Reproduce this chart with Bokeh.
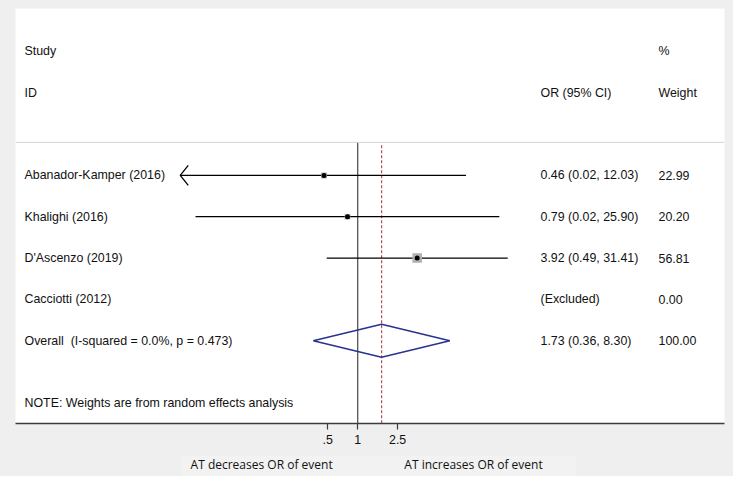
import math
from bokeh.plotting import figure
from bokeh.layouts import column
from bokeh.models import Range1d, LinearScale, FixedTicker, Span
from bokeh.embed import file_html
from bokeh.resources import INLINE
from bokeh.core.properties import value

# ---------------- data ----------------
studies = ["Abanador-Kamper (2016)", "Khalighi (2016)", "D'Ascenzo (2019)", "Cacciotti (2012)"]
or_est = [0.46, 0.79, 3.92, None]
ci_low = [0.016, 0.024, 0.49, None]
ci_high = [12.03, 25.90, 31.41, None]
weights = [22.99, 20.20, 56.81, 0.00]
or_labels = ["0.46 (0.02, 12.03)", "0.79 (0.02, 25.90)", "3.92 (0.49, 31.41)", "(Excluded)"]
weight_labels = ["22.99", "20.20", "56.81", "0.00"]

overall_text = "Overall\u00a0\u00a0(I-squared = 0.0%, p = 0.473)"
overall_or = 1.73
overall_low = 0.36
overall_high = 8.30
overall_or_label = "1.73 (0.36, 8.30)"
overall_weight_label = "100.00"

null_value = 1
tick_values = [0.5, 1, 2.5]
tick_labels = [".5", "1", "2.5"]
note_text = "NOTE: Weights are from random effects analysis"
left_label = "AT decreases OR of event"
right_label = "AT increases OR of event"

# ---------------- layout ----------------
FONT = "Liberation Sans"
FS = "12.4px"
BG = "#efefef"
x_clip_lo = 0.0169          # left limit of the forest area (arrow drawn beyond it)
px_per_ln = 43.5
px_per_row = 41.31

rows = [5, 4, 3, 2]
overall_row = 1

p = figure(width=733, height=455, x_axis_type="log",
           x_range=Range1d(3.83e-4, 4582), y_range=Range1d(-1.005, 9.04),
           output_backend="svg", toolbar_location=None,
           min_border_left=15, min_border_right=9, min_border_top=8, min_border_bottom=32,
           background_fill_color="white", border_fill_color=BG,
           outline_line_color=None, y_axis_location=None)
p.extra_x_ranges = {"px": Range1d(23, 732)}
p.extra_x_scales = {"px": LinearScale()}
p.xgrid.visible = False
p.ygrid.visible = False

ax = p.xaxis[0]
ax.ticker = FixedTicker(ticks=tick_values)
ax.major_label_overrides = {v: l for v, l in zip(tick_values, tick_labels)}
ax.minor_tick_line_color = None
ax.major_tick_in = 0
ax.major_tick_out = 6
ax.axis_line_width = 1.6
ax.axis_line_color = "#3c3c3c"
ax.major_tick_line_color = "#3c3c3c"
ax.major_tick_line_width = 1.2
ax.major_label_text_font = FONT
ax.major_label_text_font_size = "12.4px"
ax.major_label_text_color = "#111111"
ax.major_label_standoff = 5

# header separator
p.add_layout(Span(location=5.8, dimension="width", line_color="#d4d4d4", line_width=1))

# null line and overall dashed line
p.segment(x0=[null_value], y0=[5.8], x1=[null_value], y1=[-1.005],
          line_color="#222222", line_width=1)
p.segment(x0=[overall_or], y0=[5.73], x1=[overall_or], y1=[-1.005],
          line_color="#b4505a", line_width=1.2, line_dash="3 2")

# CI lines and arrows
x0s, x1s, ys = [], [], []
arrow_xs, arrow_ys = [], []
for r, lo, hi in zip(rows, ci_low, ci_high):
    if lo is None:
        continue
    start = max(lo, x_clip_lo)
    x0s.append(start); x1s.append(hi); ys.append(r)
    if lo < x_clip_lo:
        dx = x_clip_lo * math.exp(8 / px_per_ln)
        dy = 10 / px_per_row
        arrow_xs.append([dx, x_clip_lo, dx])
        arrow_ys.append([r + dy, r, r - dy])
p.segment(x0=x0s, y0=ys, x1=x1s, y1=ys, line_color="black", line_width=1.3)
p.multi_line(xs=arrow_xs, ys=arrow_ys, line_color="black", line_width=1.3)

# weight boxes and point estimates
wmax = max(weights)
bx, by, bs = [], [], []
for r, e, w in zip(rows, or_est, weights):
    if e is None:
        continue
    bx.append(e); by.append(r); bs.append(9.5 * math.sqrt(w / wmax))
p.scatter(x=bx, y=by, size=bs, marker="square", fill_color="#b0b0b0", line_color=None)
p.scatter(x=bx, y=by, size=5, marker="circle", fill_color="black", line_color=None)

# overall diamond
hh = 16.5 / px_per_row
p.patch(x=[overall_low, overall_or, overall_high, overall_or],
        y=[overall_row, overall_row + hh, overall_row, overall_row - hh],
        fill_color=None, line_color="#27338c", line_width=1.5)

# text columns
txt = dict(x_range_name="px", text_font=value(FONT), text_font_size=value(FS),
           text_baseline="middle", text_color="#111111")
p.text(x=[32, 32], y=[8, 7], text=["Study", "ID"], **txt)
p.text(x=[548], y=[7], text=["OR (95% CI)"], **txt)
p.text(x=[666, 666], y=[8, 7], text=["%", "Weight"], **txt)
p.text(x=[32] * len(studies), y=rows, text=studies, **txt)
p.text(x=[548] * len(or_labels), y=rows, text=or_labels, **txt)
p.text(x=[666] * len(weight_labels), y=rows, text=weight_labels, **txt)
p.text(x=[32], y=[overall_row], text=[overall_text], **txt)
p.text(x=[548], y=[overall_row], text=[overall_or_label], **txt)
p.text(x=[666], y=[overall_row], text=[overall_weight_label], **txt)
p.text(x=[32], y=[-0.52], text=[note_text], **txt)

# strip below the axis with the direction labels (coordinates in page pixels)
q = figure(width=733, height=21, x_range=Range1d(8, 741), y_range=Range1d(484, 463),
           output_backend="svg", toolbar_location=None,
           min_border_left=0, min_border_right=0, min_border_top=0, min_border_bottom=0,
           background_fill_color=BG, border_fill_color=BG, outline_line_color=None,
           x_axis_location=None, y_axis_location=None)
q.xgrid.visible = False
q.ygrid.visible = False
q.quad(left=[180], right=[588], top=[463], bottom=[484], fill_color="#f2f2f2", line_color=None)
q.text(x=[189, 410], y=[471.7, 471.7], text=[left_label, right_label],
       text_font=value("Open Sans"), text_font_size=value("12px"),
       text_baseline="middle", text_color="#111111")

layout = column(p, q, spacing=0, styles={"background-color": BG})
html = file_html(layout, INLINE)
html = html.replace("<body>", '<body style="background-color:#efefef;">', 1)
open("out.html", "w").write(html)
